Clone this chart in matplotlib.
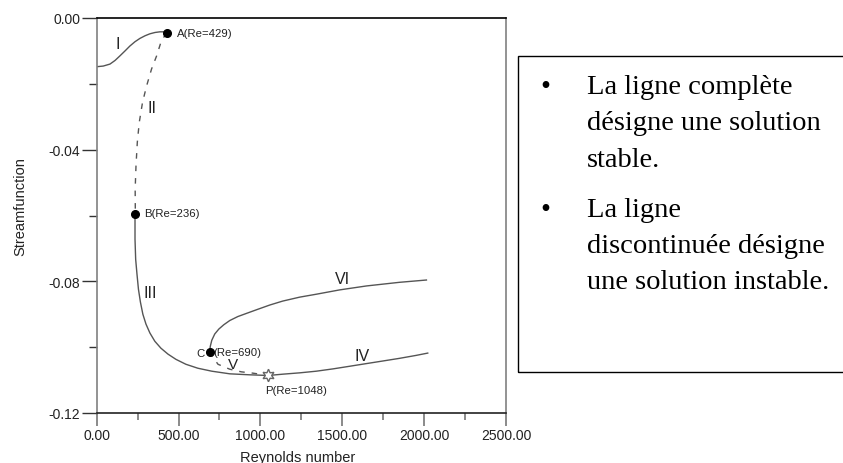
import numpy as np
import matplotlib
matplotlib.use('Agg')
import matplotlib.pyplot as plt
from matplotlib.patches import Rectangle

# Branch data (Reynolds number, streamfunction)
re_I = [0, 40, 81, 112, 142, 173, 203, 234, 264, 295, 325, 356, 386, 410, 429]
psi_I = [-0.0148, -0.0146, -0.0140, -0.0129, -0.0115, -0.0100, -0.0085, -0.0072, -0.0062, -0.0054,
         -0.0048, -0.0044, -0.0042, -0.0042, -0.0044]

re_II = [429, 410, 392, 366, 335, 305, 280, 260, 248, 240, 235, 236]
psi_II = [-0.0046, -0.0058, -0.0074, -0.0115, -0.0155, -0.0206, -0.0256, -0.0317, -0.0378, -0.0449,
          -0.0520, -0.0596]

re_III = [234, 234, 238, 246, 255, 267, 282, 301, 325, 355, 392, 435, 484, 545, 618, 703, 813, 935, 1048]
psi_III = [-0.0596, -0.0672, -0.0733, -0.0778, -0.0824, -0.0863, -0.0900, -0.0930, -0.0957, -0.0982,
           -0.1003, -0.1021, -0.1037, -0.1052, -0.1064, -0.1073, -0.1081, -0.1084, -0.1086]

re_IV = [1048, 1138, 1240, 1341, 1443, 1545, 1646, 1748, 1849, 1951, 2022]
psi_IV = [-0.1086, -0.1082, -0.1078, -0.1073, -0.1066, -0.1058, -0.1050, -0.1042, -0.1034, -0.1025, -0.1018]

re_V = [690, 701, 741, 813, 884, 955, 1048]
psi_V = [-0.1014, -0.1024, -0.1052, -0.1067, -0.1075, -0.1079, -0.1086]

re_VI = [690, 694, 703, 721, 746, 776, 813, 862, 917, 978, 1057, 1136, 1240, 1343, 1484, 1648, 1849, 2014]
psi_VI = [-0.1014, -0.0997, -0.0979, -0.0960, -0.0945, -0.0932, -0.0919, -0.0907, -0.0897, -0.0886,
          -0.0872, -0.0860, -0.0848, -0.0839, -0.0826, -0.0814, -0.0803, -0.0796]

# Special points
pt_names = ['A', 'B', 'C']
pt_re = [429, 236, 690]
pt_psi = [-0.0046, -0.0596, -0.1014]
p_re = 1048
p_psi = -0.1086

x_ticks = [0, 500, 1000, 1500, 2000, 2500]
y_ticks = [0.0, -0.04, -0.08, -0.12]

note_lines = ['La ligne complète', 'désigne une solution', 'stable.',
              'La ligne', 'discontinuée désigne', 'une solution instable.']

W, H = 843, 464
plt.rcParams['font.family'] = ['Liberation Sans', 'DejaVu Sans']
fig = plt.figure(figsize=(W / 100, H / 100), dpi=100)
ax = fig.add_axes([96.7 / W, 1 - 414 / H, (506 - 96.7) / W, (414 - 19) / H])

line_col = '#555555'
ax.plot(re_I, psi_I, color=line_col, lw=1.0)
ax.plot(re_II, psi_II, color=line_col, lw=1.0, dashes=(4, 5))
ax.plot(re_III, psi_III, color=line_col, lw=1.0)
ax.plot(re_IV, psi_IV, color=line_col, lw=1.0)
ax.plot(re_V, psi_V, color=line_col, lw=1.0, dashes=(4, 5))
ax.plot(re_VI, psi_VI, color=line_col, lw=1.0)

ax.plot(pt_re, pt_psi, 'o', color='black', ms=5.5, zorder=5)
ax.plot([p_re], [p_psi], marker=(6, 1, 0), ms=9, mfc='white', mec='#666666', mew=1.0, zorder=5)

txt_col = '#222222'
# Branch labels
ax.text(130, -0.0076, 'I', fontsize=11.5, ha='center', va='center', color=txt_col)
ax.text(337, -0.0271, 'II', fontsize=11.5, ha='center', va='center', color=txt_col)
ax.text(325, -0.0833, 'III', fontsize=11.5, ha='center', va='center', color=txt_col)
ax.text(830, -0.1051, 'V', fontsize=11, ha='center', va='center', color=txt_col)
ax.text(1500, -0.0791, 'VI', fontsize=11.5, ha='center', va='center', color=txt_col)
ax.text(1622, -0.1026, 'IV', fontsize=11.5, ha='center', va='center', color=txt_col)

# Point labels
ax.text(490, -0.0046, 'A(Re=429)', fontsize=8.2, ha='left', va='center', color=txt_col)
ax.text(290, -0.0593, 'B(Re=236)', fontsize=8.2, ha='left', va='center', color=txt_col)
ax.text(660, -0.1018, 'C', fontsize=8.2, ha='right', va='center', color=txt_col)
ax.text(711, -0.1015, '(Re=690)', fontsize=8.2, ha='left', va='center', color=txt_col)
ax.text(1026, -0.1131, 'P(Re=1048)', fontsize=8.2, ha='left', va='center', color=txt_col)

ax.set_xlim(0, 2500)
ax.set_ylim(-0.12, 0.0)
ax.set_xticks(x_ticks)
ax.set_xticklabels(['%.2f' % v for v in x_ticks])
ax.set_xticks([250, 750, 1250, 1750, 2250], minor=True)
ax.set_yticks(y_ticks)
ax.set_yticklabels(['%.2f' % v if v != 0 else '0.00' for v in y_ticks])
ax.set_yticks([-0.02, -0.06, -0.10], minor=True)

ax.tick_params(axis='x', which='major', direction='out', length=9, width=1.2, color='#777777',
               labelsize=10, pad=2, labelcolor=txt_col)
ax.tick_params(axis='x', which='minor', direction='out', length=5, width=1.2, color='#777777')
ax.tick_params(axis='y', which='major', direction='out', length=10.5, width=1.0, color='#333333',
               labelsize=10, pad=1.5, labelcolor=txt_col)
ax.tick_params(axis='y', which='minor', direction='out', length=6, width=1.0, color='#333333')

ax.spines['left'].set_color('#808080')
ax.spines['right'].set_color('#808080')
ax.spines['top'].set_color('black')
ax.spines['bottom'].set_color('#222222')
for s in ax.spines.values():
    s.set_linewidth(1.2)

ax.set_xlabel('Reynolds number', fontsize=10.5, color=txt_col)
ax.set_ylabel('Streamfunction', fontsize=10.5, color=txt_col)
ax.xaxis.set_label_coords(0.49, -0.094)
ax.yaxis.set_label_coords(-0.169, 0.524)

# Note box
fig.patches.append(Rectangle((518 / W, 1 - 373 / H), 1.0, (373 - 57) / H, transform=fig.transFigure,
                             fill=False, edgecolor='black', lw=1.0))
baselines = [94, 130.3, 166.6, 216.7, 252.6, 288.6]
for i, (line, yb) in enumerate(zip(note_lines, baselines)):
    fig.text(587 / W, 1 - yb / H, line, fontsize=20.5, family='Liberation Serif',
             ha='left', va='baseline', color='black')
    if i in (0, 3):
        fig.text(545 / W, 1 - yb / H, '•', fontsize=20.5, family='Liberation Serif',
                 ha='center', va='baseline', color='black')

fig.savefig('out.png', dpi=100)
